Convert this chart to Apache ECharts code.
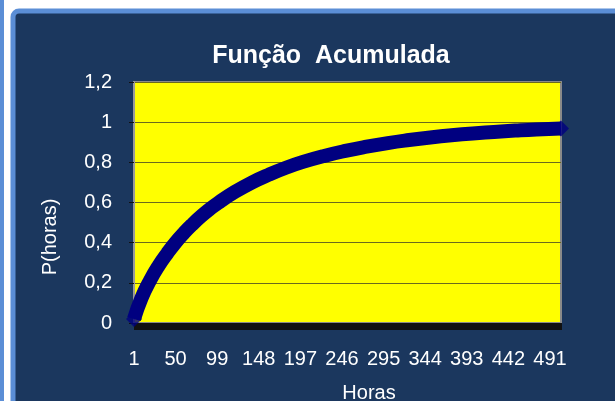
<!DOCTYPE html>
<html>
<head>
<meta charset="utf-8">
<title>Função Acumulada</title>
<script src="https://cdn.jsdelivr.net/npm/echarts@6/dist/echarts.min.js"></script>
<style>
  html, body { margin: 0; padding: 0; background: #ffffff; }
  #chart { width: 615px; height: 401px; }
</style>
</head>
<body>
<div id="chart"></div>
<script>
// Hours on the category axis run from 1 to 504
const firstHour = 1;
const lastHour = 504;

// Cumulative probability P(horas)
const hours = [1, 10, 20, 30, 40, 50, 60, 70, 80, 90, 100, 120, 140, 160, 180, 200,
  225, 250, 275, 300, 325, 350, 375, 400, 425, 450, 475, 504];
const probs = [0.02, 0.126, 0.213, 0.285, 0.346, 0.401, 0.449, 0.492, 0.531, 0.566, 0.598,
  0.653, 0.700, 0.739, 0.773, 0.802, 0.832, 0.857, 0.878, 0.896, 0.911, 0.924, 0.935,
  0.944, 0.951, 0.958, 0.964, 0.969];

// Value axis ticks
const yMin = 0, yMax = 1.2, yStep = 0.2;

const titleText = 'Função  Acumulada';
const xName = 'Horas';
const yName = 'P(horas)';

const categories = [];
for (let h = firstHour; h <= lastHour; h++) categories.push(String(h));

const seriesData = hours.map((h, i) => [h - firstHour, probs[i]]);
const endPoints = [seriesData[0], seriesData[seriesData.length - 1]];

const FONT = "'Liberation Sans', Arial, sans-serif";
const chart = echarts.init(document.getElementById('chart'), null, { renderer: 'canvas' });

chart.setOption({
  animation: false,
  backgroundColor: '#ffffff',
  graphic: [
    // neighbouring panel edge on the far left
    { type: 'rect', z: -10, shape: { x: 0, y: 0, width: 4, height: 401 }, style: { fill: '#5b8ed6' } },
    // chart frame
    { type: 'rect', z: -10, shape: { x: 13, y: 11, width: 640, height: 420, r: 6 },
      style: { fill: '#1b375e', stroke: '#5b8ed6', lineWidth: 5 } },
    { type: 'text', z: 10, x: 331, y: 56,
      style: { text: titleText, x: 0, y: 0, align: 'center', verticalAlign: 'middle',
        fill: '#ffffff', font: "bold 25px " + FONT } },
    { type: 'text', z: 10, rotation: Math.PI / 2, x: 50, y: 237,
      style: { text: yName, x: 0, y: 0, align: 'center', verticalAlign: 'middle',
        fill: '#ffffff', font: "20px " + FONT } },
    { type: 'text', z: 10, x: 369, y: 393,
      style: { text: xName, x: 0, y: 0, align: 'center', verticalAlign: 'middle',
        fill: '#ffffff', font: "20px " + FONT } }
  ],
  grid: {
    left: 134, right: 54, top: 82, bottom: 78,
    show: true, backgroundColor: '#ffff00', borderColor: '#8a8a8a', borderWidth: 2
  },
  xAxis: {
    type: 'category',
    data: categories,
    boundaryGap: false,
    axisLine: { show: true, lineStyle: { color: '#222222', width: 1 } },
    axisTick: { show: true, interval: 0, length: 7, lineStyle: { color: '#111111', width: 1 } },
    axisLabel: { interval: 48, color: '#ffffff', fontSize: 20, fontFamily: FONT, margin: 26 },
    splitLine: { show: false }
  },
  yAxis: {
    type: 'value',
    min: yMin, max: yMax, interval: yStep,
    axisLine: { show: true, lineStyle: { color: '#9a9a9a', width: 2 } },
    axisTick: { show: true, length: 5, lineStyle: { color: '#111111' } },
    axisLabel: {
      color: '#ffffff', fontSize: 20, fontFamily: FONT, margin: 22,
      formatter: v => String(Math.round(v * 10) / 10).replace('.', ',')
    },
    splitLine: { show: true, lineStyle: { color: '#6a6a1e', width: 1.2 } }
  },
  series: [{
    type: 'line',
    data: seriesData,
    smooth: 0.5,
    showSymbol: false,
    lineStyle: { color: '#000080', width: 14, join: 'round' },
    clip: false
  }, {
    type: 'scatter',
    data: endPoints,
    symbol: 'diamond',
    symbolSize: 16,
    itemStyle: { color: '#000080' },
    clip: false
  }]
});
</script>
</body>
</html>
